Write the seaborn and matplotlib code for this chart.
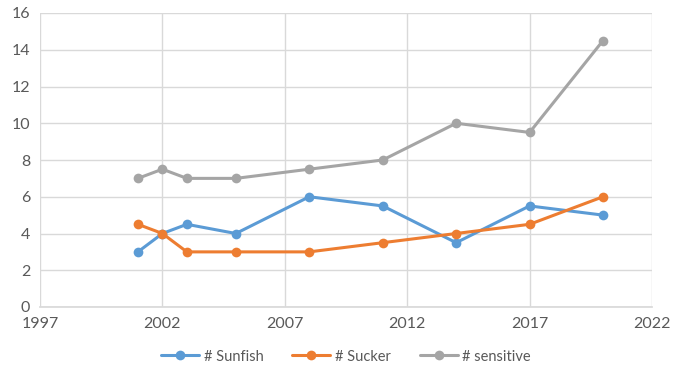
import matplotlib
matplotlib.use("Agg")
import matplotlib.pyplot as plt
import seaborn as sns
import pandas as pd

# Survey years and counts per group
years = [2001, 2002, 2003, 2005, 2008, 2011, 2014, 2017, 2020]
sunfish = [3, 4, 4.5, 4, 6, 5.5, 3.5, 5.5, 5]
sucker = [4.5, 4, 3, 3, 3, 3.5, 4, 4.5, 6]
sensitive = [7, 7.5, 7, 7, 7.5, 8, 10, 9.5, 14.5]
series_names = ["# Sunfish", "# Sucker", "# sensitive"]
x_ticks = [1997, 2002, 2007, 2012, 2017, 2022]
y_ticks = [0, 2, 4, 6, 8, 10, 12, 14, 16]

df = pd.concat([
    pd.DataFrame({"year": years, "count": vals, "series": name})
    for name, vals in zip(series_names, [sunfish, sucker, sensitive])
])

sns.set_theme(style="white")
plt.rcParams["font.family"] = ["Lato", "DejaVu Sans"]

fig = plt.figure(figsize=(6.73, 3.83), dpi=100)
ax = fig.add_axes([40 / 673, 1 - 307 / 383, 612 / 673, 294 / 383])

palette = {"# Sunfish": "#5B9BD5", "# Sucker": "#ED7D31", "# sensitive": "#A5A5A5"}
sns.lineplot(data=df, x="year", y="count", hue="series", palette=palette,
             marker="o", markersize=7, markeredgewidth=0, linewidth=2.2,
             ax=ax, legend=True)

ax.set_xlim(1997, 2022)
ax.set_ylim(0, 16)
ax.set_xticks(x_ticks)
ax.set_yticks(y_ticks)
ax.set_xlabel("")
ax.set_ylabel("")
ax.grid(True, color="#D9D9D9", linewidth=1)
ax.set_axisbelow(True)
for s in ["top", "right", "left"]:
    ax.spines[s].set_visible(False)
ax.spines["bottom"].set_color("#D9D9D9")
ax.tick_params(axis="both", length=0, labelsize=11.5, colors="#595959", pad=7)

handles, labels = ax.get_legend_handles_labels()
ax.legend(handles, labels, loc="upper center", bbox_to_anchor=(0.5, -0.1),
          ncol=3, frameon=False, fontsize=10.5, labelcolor="#595959",
          handlelength=2.6, columnspacing=2.0, handletextpad=0.3)

fig.savefig("out.png", dpi=100, facecolor="white")
